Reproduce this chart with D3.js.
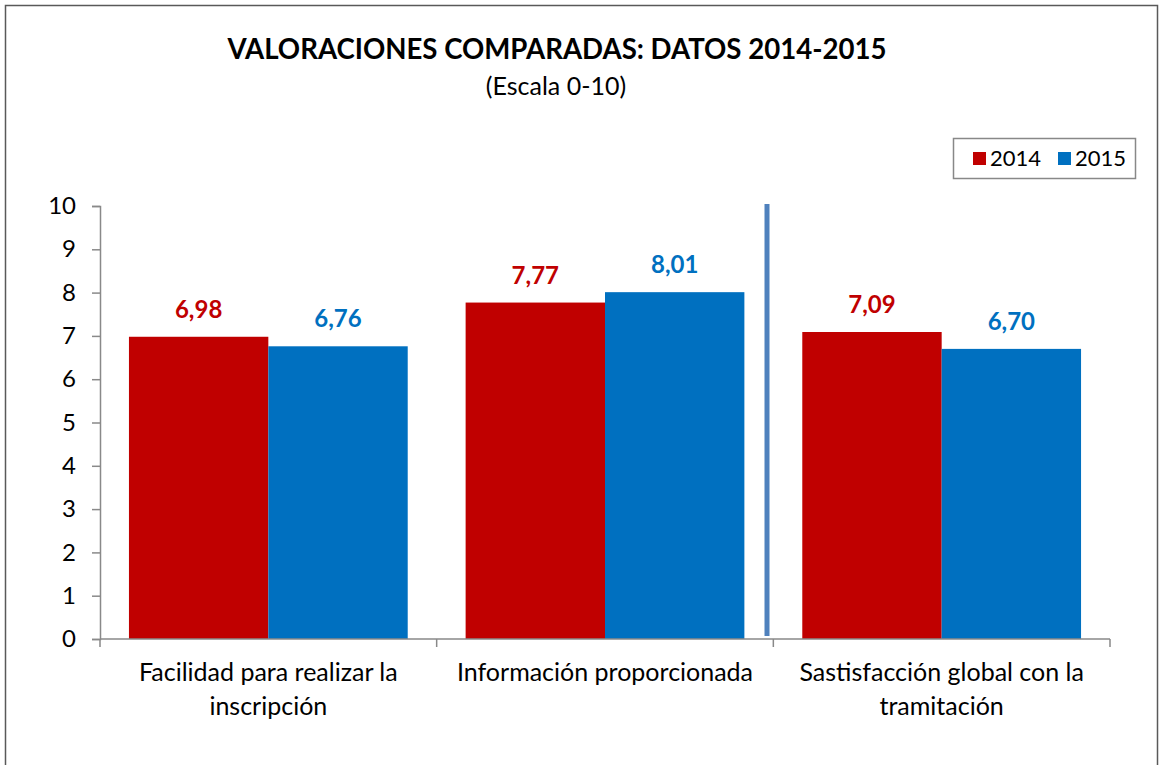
<!DOCTYPE html>
<html>
<head>
<meta charset="utf-8">
<script src="https://cdn.jsdelivr.net/npm/d3@7"></script>
<style>
  body { margin: 0; background: #fff; }
  svg { font-family: Lato, "Liberation Sans", sans-serif; }
</style>
</head>
<body>
<div id="chart"></div>
<script>
const categories = [
  ['Facilidad para realizar la', 'inscripción'],
  ['Información proporcionada'],
  ['Sastisfacción global con la', 'tramitación']
];
const series = ['2014', '2015'];
const values2014 = [6.98, 7.77, 7.09];
const values2015 = [6.76, 8.01, 6.70];
const yTicks = [0, 1, 2, 3, 4, 5, 6, 7, 8, 9, 10];

const width = 1160,
      height = 765,
      margin = { top: 206, right: 50, bottom: 126, left: 100 };

const colors = { '2014': '#C00000', '2015': '#0070C0' };
const axisColor = '#898989';

const svg = d3.select('#chart').append('svg')
    .attr('width', width)
    .attr('height', height);

// outer frame
svg.append('rect')
    .attr('x', 5.5).attr('y', 5.5)
    .attr('width', 1152).attr('height', 780)
    .attr('fill', 'none')
    .attr('stroke', '#595959')
    .attr('stroke-width', 1.5);

// title
svg.append('text')
    .attr('x', 557).attr('y', 59)
    .attr('text-anchor', 'middle')
    .style('font-size', '27.6px')
    .style('font-weight', 'bold')
    .text('VALORACIONES COMPARADAS: DATOS 2014-2015');

svg.append('text')
    .attr('x', 556).attr('y', 95)
    .attr('text-anchor', 'middle')
    .style('font-size', '25px')
    .text('(Escala 0-10)');

const data = categories.map((c, i) => ({
  idx: i,
  lines: c,
  vals: [
    { key: '2014', value: values2014[i] },
    { key: '2015', value: values2015[i] }
  ]
}));

const x0 = d3.scaleBand()
    .domain(data.map(d => d.idx))
    .range([margin.left, width - margin.right])
    .paddingInner(0.172)
    .paddingOuter(0.086);

const x1 = d3.scaleBand()
    .domain(series)
    .range([0, x0.bandwidth()]);

const y = d3.scaleLinear()
    .domain([0, 10])
    .range([height - margin.bottom, margin.top]);

// bars
const groups = svg.selectAll('g.group')
    .data(data)
    .enter().append('g')
    .attr('class', 'group')
    .attr('transform', d => `translate(${x0(d.idx)},0)`);

groups.selectAll('rect')
    .data(d => d.vals)
    .enter().append('rect')
    .attr('x', d => x1(d.key))
    .attr('y', d => y(d.value))
    .attr('width', x1.bandwidth())
    .attr('height', d => y(0) - y(d.value))
    .attr('fill', d => colors[d.key]);

groups.selectAll('text.val')
    .data(d => d.vals)
    .enter().append('text')
    .attr('class', 'val')
    .attr('x', d => x1(d.key) + x1.bandwidth() / 2)
    .attr('y', d => y(d.value) - 19)
    .attr('text-anchor', 'middle')
    .attr('fill', d => colors[d.key])
    .style('font-size', '24px')
    .style('font-weight', 'bold')
    .text(d => d.value.toFixed(2).replace('.', ','));

// Y-axis
const yAxis = svg.append('g')
    .attr('transform', `translate(${margin.left},0)`)
    .call(d3.axisLeft(y).tickValues(yTicks).tickSize(8).tickPadding(16));
yAxis.select('.domain').attr('stroke', axisColor).attr('stroke-width', 1.5);
yAxis.selectAll('.tick line').attr('stroke', axisColor).attr('stroke-width', 1.5);
yAxis.selectAll('.tick text')
    .attr('fill', '#000')
    .style('font-size', '24px')
    .style('font-family', 'Lato, "Liberation Sans", sans-serif');

// X-axis
const step = x0.step();
const xBoundaries = d3.range(categories.length + 1).map(i => margin.left + i * step);
const xg = svg.append('g');
xg.append('line')
    .attr('x1', margin.left).attr('x2', width - margin.right)
    .attr('y1', y(0)).attr('y2', y(0))
    .attr('stroke', axisColor).attr('stroke-width', 1.5);
xg.selectAll('line.tick')
    .data(xBoundaries)
    .enter().append('line')
    .attr('class', 'tick')
    .attr('x1', d => d).attr('x2', d => d)
    .attr('y1', y(0)).attr('y2', y(0) + 8)
    .attr('stroke', axisColor).attr('stroke-width', 1.5);

const labels = xg.selectAll('text.cat')
    .data(data)
    .enter().append('text')
    .attr('class', 'cat')
    .attr('text-anchor', 'middle')
    .style('font-size', '25px');
labels.selectAll('tspan')
    .data(d => d.lines.map(l => ({ l, cx: x0(d.idx) + x0.bandwidth() / 2 })))
    .enter().append('tspan')
    .attr('x', d => d.cx)
    .attr('y', (d, i) => y(0) + 42 + i * 34)
    .text(d => d.l);

// divider line between second and third category
svg.append('line')
    .attr('x1', 767).attr('x2', 767)
    .attr('y1', y(10) - 2).attr('y2', y(0) - 3)
    .attr('stroke', '#4F81BD')
    .attr('stroke-width', 5);

// Legend
const legend = svg.append('g');
legend.append('rect')
    .attr('x', 953.5).attr('y', 138.5)
    .attr('width', 182).attr('height', 40)
    .attr('fill', '#fff')
    .attr('stroke', '#888')
    .attr('stroke-width', 1.5);
const legendX = [973, 1058];
series.forEach((s, i) => {
  legend.append('rect')
      .attr('x', legendX[i]).attr('y', 152)
      .attr('width', 13).attr('height', 13)
      .attr('fill', colors[s]);
  legend.append('text')
      .attr('x', legendX[i] + 17).attr('y', 166)
      .style('font-size', '22px')
      .text(s);
});
</script>
</body>
</html>
